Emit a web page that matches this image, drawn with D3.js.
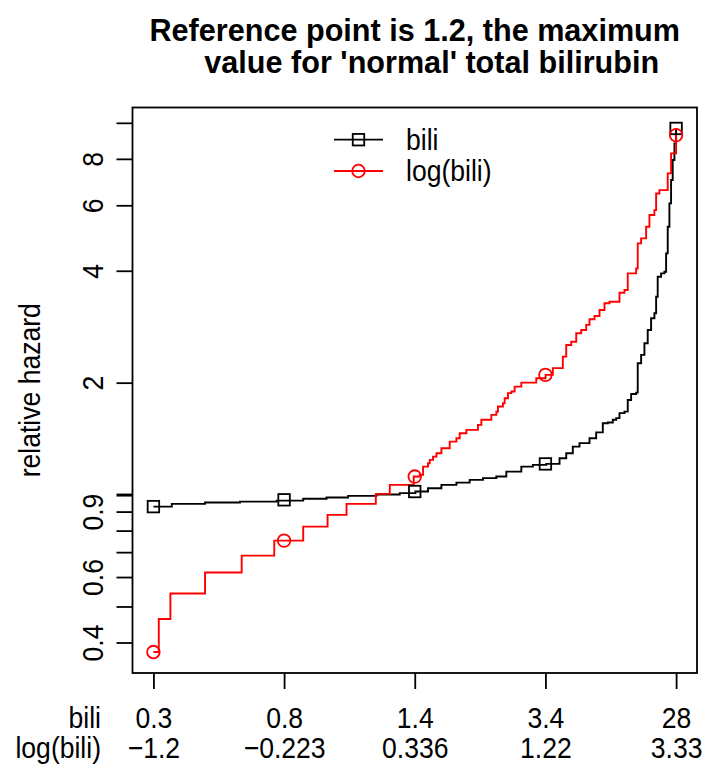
<!DOCTYPE html>
<html>
<head>
<meta charset="utf-8">
<script src="https://cdn.jsdelivr.net/npm/d3@7"></script>
<style>
  html, body { margin: 0; padding: 0; background: #fff; }
  svg text { font-family: "Liberation Sans", Arial, Helvetica, sans-serif; fill: #000; }
</style>
</head>
<body>
<svg id="chart" width="705" height="767"></svg>
<script>
// Quartile positions of bili (percent of patients ranked by bili) and their labels
const tickPct = [0, 25, 50, 75, 100];
const biliTickLabels = ["0.3", "0.8", "1.4", "3.4", "28"];
const logTickLabels = ["\u22121.2", "\u22120.223", "0.336", "1.22", "3.33"];

// Relative hazard axis
const hazardTicks = [0.4, 0.5, 0.6, 0.7, 0.8, 0.9, 1, 2, 4, 6, 8, 10];
const hazardLabelled = [0.4, 0.6, 0.9, 2, 4, 6, 8];

// Fit with linear bili: step curve (percent position, relative hazard)
const biliPct = [0, 3.52, 9.88, 16.56, 23.58, 28.66, 33.13, 37.26, 42.68, 47.13, 50.13,
  52.54, 55.1, 57.97, 60.51, 63.05, 65.61, 67.52, 70.39, 72.6, 75.16, 77.7, 78.98, 80.24,
  81.52, 83.43, 84.71, 85.98, 86.93, 87.89, 88.54, 89.17, 90.12, 90.75, 91.4, 92.36, 92.66,
  93.31, 93.94, 94.57, 95.22, 95.85, 96.18, 96.48, 97.13, 97.76, 98.09, 98.4, 98.72, 99.04,
  99.35, 99.68, 100];
const biliHazard = [0.928, 0.944, 0.952, 0.957, 0.963, 0.974, 0.982, 0.992, 1.0, 1.009, 1.019,
  1.04, 1.062, 1.077, 1.095, 1.107, 1.118, 1.153, 1.189, 1.202, 1.209, 1.252, 1.292, 1.346,
  1.375, 1.418, 1.47, 1.556, 1.562, 1.589, 1.606, 1.656, 1.672, 1.797, 1.865, 1.88, 2.255,
  2.375, 2.553, 2.772, 2.98, 3.074, 3.406, 3.855, 3.935, 3.975, 4.456, 5.254, 6.072, 7.015,
  7.94, 8.804, 9.658];

// Fit with log(bili)
const logPct = [0, 1.03, 3.25, 9.88, 16.89, 23.12, 28.66, 33.32, 36.95, 42.55, 45.22, 49.8,
  50.96, 51.59, 52.54, 52.87, 53.5, 54.15, 55.1, 56.69, 57.97, 58.6, 59.88, 62.09, 62.74,
  64.65, 65.61, 65.92, 66.87, 67.2, 67.83, 68.48, 69.11, 70.39, 73.25, 75.03, 76.42, 78.33,
  78.98, 79.94, 80.89, 81.85, 82.8, 83.43, 84.39, 85.35, 86.3, 87.26, 89.17, 90.12, 90.75,
  92.36, 92.66, 93.31, 94.27, 94.9, 95.85, 96.18, 96.81, 98.4, 99.04, 100];
const logHazard = [0.377, 0.4625, 0.542, 0.617, 0.685, 0.752, 0.82, 0.882, 0.944, 1.004, 1.062,
  1.118, 1.13, 1.189, 1.214, 1.24, 1.265, 1.292, 1.332, 1.388, 1.418, 1.462, 1.493, 1.54,
  1.589, 1.638, 1.672, 1.725, 1.761, 1.816, 1.874, 1.893, 1.952, 2.001, 2.056, 2.099, 2.188,
  2.35, 2.526, 2.578, 2.716, 2.772, 2.86, 2.962, 3.023, 3.137, 3.27, 3.302, 3.491, 3.55,
  3.935, 4.058, 4.74, 4.889, 5.254, 5.648, 5.825, 6.457, 6.591, 7.311, 8.275, 9.267];

// Symbols at the quartiles
const biliMarks = [0.928, 0.968, 1.019, 1.209, 9.658];
const logMarks = [0.377, 0.752, 1.118, 2.099, 9.267];

const seriesNames = ["bili", "log(bili)"];
const seriesColors = ["#000000", "#ff0000"];

// Second title line keeps its source indentation
const titleLines = ["Reference point is 1.2, the maximum", "    value for 'normal' total bilirubin"];
const yTitle = "relative hazard";

// ---------------------------------------------------------------
const svg = d3.select("#chart");
const box = { left: 132.5, right: 697, top: 107.5, bottom: 673 };

// R-style 4% padding on each side
const xExt = d3.extent(biliPct.concat(logPct));
const xPad = (xExt[1] - xExt[0]) * 0.04;
const x = d3.scaleLinear().domain([xExt[0] - xPad, xExt[1] + xPad]).range([box.left, box.right]);

const yExt = d3.extent(biliHazard.concat(logHazard)).map(Math.log10);
const yPad = (yExt[1] - yExt[0]) * 0.04;
const y = d3.scaleLog()
  .domain([Math.pow(10, yExt[0] - yPad), Math.pow(10, yExt[1] + yPad)])
  .range([box.bottom, box.top]);

// Text face: slightly narrow, tall Helvetica-like glyphs
const fontSize = 29.5;
const squeeze = "scale(0.9,1)";
const lw = 1.8;

function label(sel, tx, ty, rot) {
  return sel.attr("x", null).attr("y", null).attr("dy", null)
    .attr("transform", `translate(${tx},${ty})` + (rot ? ` rotate(${rot})` : "") + " " + squeeze)
    .style("font-size", fontSize + "px");
}

// Left axis
const yAxis = d3.axisLeft(y).tickValues(hazardTicks)
  .tickSize(16).tickPadding(0)
  .tickFormat(d => hazardLabelled.includes(d) ? String(d) : "");
const gy = svg.append("g").attr("transform", `translate(${box.left},0)`).call(yAxis);
gy.select(".domain").remove();
gy.selectAll(".tick line").attr("stroke", "#000").attr("stroke-width", d => d === 1 ? 3 : lw);
label(gy.selectAll(".tick text"), -30, 0, -90).attr("text-anchor", "middle");

// Bottom axis: bili values
const xAxis = d3.axisBottom(x).tickValues(tickPct)
  .tickSize(16).tickPadding(0)
  .tickFormat((d, i) => biliTickLabels[i]);
const gx = svg.append("g").attr("transform", `translate(0,${box.bottom})`).call(xAxis);
gx.select(".domain").remove();
gx.selectAll(".tick line").attr("stroke", "#000").attr("stroke-width", lw);
label(gx.selectAll(".tick text"), 0, 55);

// Second row: log(bili)
const xAxis2 = d3.axisBottom(x).tickValues(tickPct)
  .tickSize(0).tickPadding(0)
  .tickFormat((d, i) => logTickLabels[i]);
const gx2 = svg.append("g").attr("transform", `translate(0,${box.bottom})`).call(xAxis2);
gx2.select(".domain").remove();
gx2.selectAll(".tick line").remove();
label(gx2.selectAll(".tick text"), 0, 85);

// Row names
label(svg.append("text"), 101, box.bottom + 55).attr("text-anchor", "end").text(seriesNames[0]);
label(svg.append("text"), 101, box.bottom + 85).attr("text-anchor", "end").text(seriesNames[1]);

// Plot box
svg.append("rect")
  .attr("x", box.left).attr("y", box.top)
  .attr("width", box.right - box.left).attr("height", box.bottom - box.top)
  .attr("fill", "none").attr("stroke", "#000").attr("stroke-width", lw);

// Curves
const step = d3.line().curve(d3.curveStepAfter).x(d => x(d[0])).y(d => y(d[1]));
const curves = [
  d3.zip(biliPct, biliHazard),
  d3.zip(logPct, logHazard)
];
curves.forEach((pts, i) => {
  svg.append("path").attr("d", step(pts))
    .attr("fill", "none").attr("stroke", seriesColors[i])
    .attr("stroke-width", 1.9).attr("stroke-linejoin", "miter");
});

// Quartile symbols
const sq = 11.5;
svg.append("g").selectAll("rect").data(d3.zip(tickPct, biliMarks)).join("rect")
  .attr("x", d => x(d[0]) - sq / 2).attr("y", d => y(d[1]) - sq / 2)
  .attr("width", sq).attr("height", sq)
  .attr("fill", "none").attr("stroke", seriesColors[0]).attr("stroke-width", lw);
svg.append("g").selectAll("circle").data(d3.zip(tickPct, logMarks)).join("circle")
  .attr("cx", d => x(d[0])).attr("cy", d => y(d[1])).attr("r", 6.3)
  .attr("fill", "none").attr("stroke", seriesColors[1]).attr("stroke-width", lw);

// Legend
const leg = svg.append("g");
seriesNames.forEach((name, i) => {
  const ly = 139.7 + i * 31.3;
  leg.append("line").attr("x1", 334).attr("x2", 383).attr("y1", ly).attr("y2", ly)
    .attr("stroke", seriesColors[i]).attr("stroke-width", lw);
  if (i === 0) {
    leg.append("rect").attr("x", 358.5 - sq / 2).attr("y", ly - sq / 2)
      .attr("width", sq).attr("height", sq)
      .attr("fill", "none").attr("stroke", seriesColors[i]).attr("stroke-width", lw);
  } else {
    leg.append("circle").attr("cx", 358.5).attr("cy", ly).attr("r", 6.3)
      .attr("fill", "none").attr("stroke", seriesColors[i]).attr("stroke-width", lw);
  }
  label(leg.append("text"), 406, ly + 10).text(name);
});

// Axis title
label(svg.append("text"), 40, (box.top + box.bottom) / 2, -90)
  .attr("text-anchor", "middle").text(yTitle);

// Main title, each line centred over the plot
const cx = (box.left + box.right) / 2;
titleLines.forEach((t, i) => {
  svg.append("text").attr("x", cx).attr("y", 41 + i * 32)
    .attr("text-anchor", "middle")
    .attr("xml:space", "preserve")
    .style("white-space", "pre")
    .style("font-size", "30.6px").style("font-weight", "bold")
    .text(t);
});
</script>
</body>
</html>
